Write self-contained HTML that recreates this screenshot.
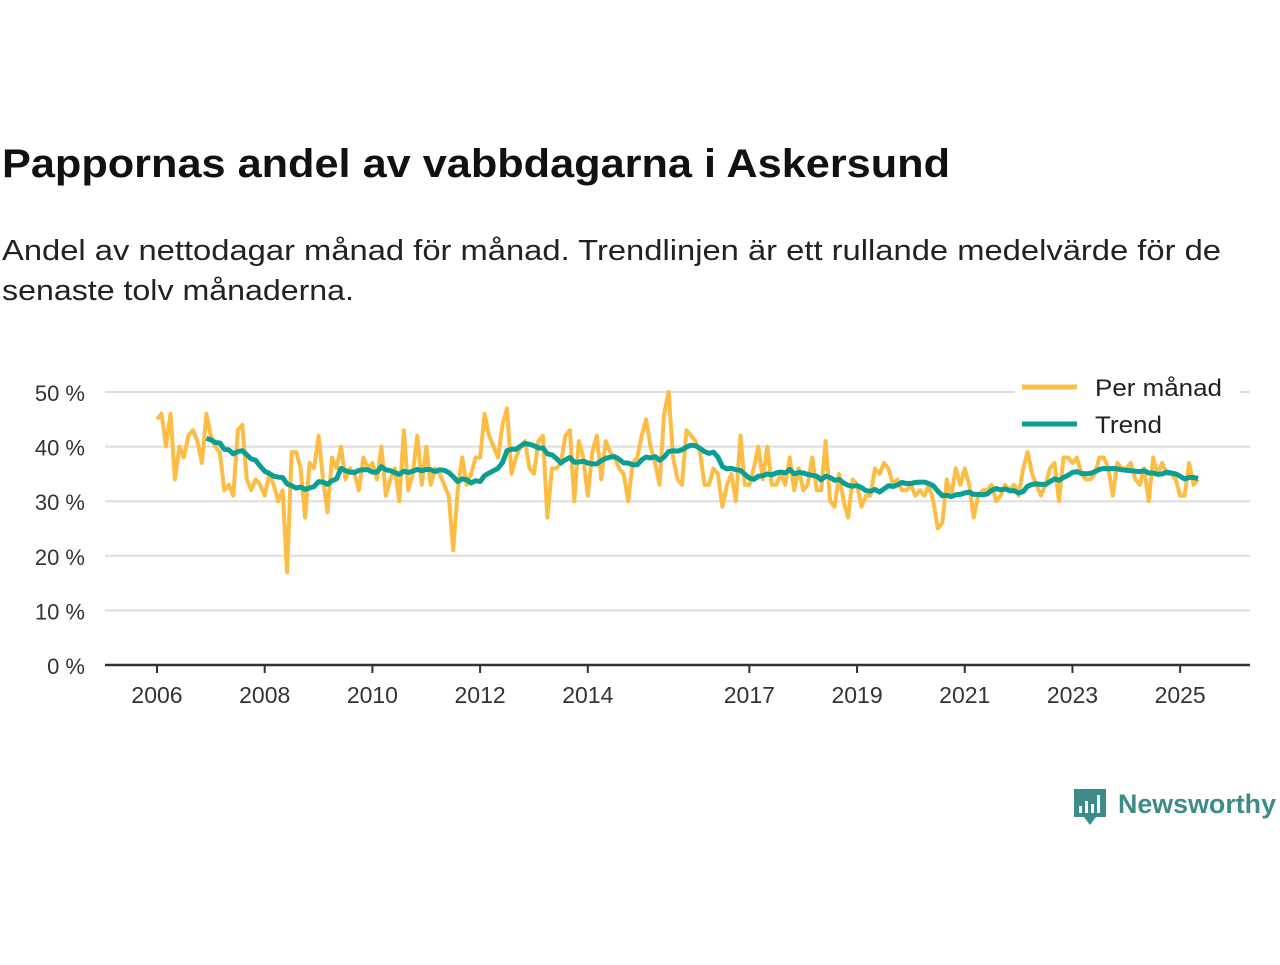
<!DOCTYPE html>
<html><head><meta charset="utf-8"><style>
body{margin:0;width:1280px;height:960px;background:#fff;font-family:"Liberation Sans",sans-serif;overflow:hidden}
svg text{font-family:"Liberation Sans",sans-serif}
</style></head><body>
<svg width="1280" height="960">
<text x="2" y="177" font-size="40" font-weight="bold" fill="#111" textLength="948" lengthAdjust="spacingAndGlyphs">Pappornas andel av vabbdagarna i Askersund</text>
<text x="2" y="260" font-size="29" fill="#222" textLength="1219" lengthAdjust="spacingAndGlyphs">Andel av nettodagar månad för månad. Trendlinjen är ett rullande medelvärde för de</text>
<text x="2" y="300" font-size="29" fill="#222" textLength="352" lengthAdjust="spacingAndGlyphs">senaste tolv månaderna.</text>
<g id="grid"></g><g id="axes"></g><g id="series"></g>
<g>
<rect x="1015" y="370" width="225" height="75" fill="#fff"/>
<line x1="1022" y1="387" x2="1077" y2="387" stroke="#FDBD45" stroke-width="5"/>
<text x="1095" y="396" font-size="24" fill="#222" textLength="127" lengthAdjust="spacingAndGlyphs">Per månad</text>
<line x1="1022" y1="424" x2="1077" y2="424" stroke="#0B9E92" stroke-width="5"/>
<text x="1095" y="433" font-size="24" fill="#222" textLength="67" lengthAdjust="spacingAndGlyphs">Trend</text>
</g>
<g>
<path d="M1074 789 h32 v28 h-10 l-6 8 l-6 -8 h-10 z" fill="#3E8C8A"/>
<rect x="1079" y="806" width="3" height="7" fill="#fff"/><rect x="1085" y="801" width="3" height="12" fill="#fff"/><rect x="1091" y="804" width="3" height="9" fill="#fff"/><rect x="1097" y="795" width="3" height="18" fill="#fff"/>
<text x="1118" y="813" font-size="27" font-weight="bold" fill="#3E8C8A" textLength="158" lengthAdjust="spacingAndGlyphs">Newsworthy</text>
</g>
</svg>
<script>
const perMonth=[45,46,40,46,34,40,38,42,43,41,37,46,
42,40,39,32,33,31,43,44,34,32,34,33,
31,35,33,30,32,17,39,39,36,27,37,36,
42,34,28,38,36,40,34,36,35,32,38,36,
37,34,40,31,34,36,30,43,32,35,42,33,
40,33,36,35,33,31,21,32,38,33,35,38,
38,46,42,40,38,44,47,35,38,40,41,36,
35,41,42,27,36,36,37,42,43,30,41,38,
31,39,42,34,41,39,38,36,35,30,37,38,
42,45,40,37,33,46,50,38,34,33,43,42,
41,39,33,33,36,35,29,33,35,30,42,33,
33,36,40,34,40,33,33,35,33,38,32,36,
32,33,38,32,32,41,30,29,35,30,27,34,
33,29,31,31,36,35,37,36,33,34,32,32,
33,31,32,31,33,30,25,26,34,31,36,33,
36,33,27,31,32,32,33,30,31,33,32,33,
31,36,39,35,33,31,33,36,37,30,38,38,
37,38,35,34,34,35,38,38,36,31,37,36,
36,37,34,33,36,30,38,35,37,35,35,34,
31,31,37,33,34];
const startYear=2006;
const yTicks=[0,10,20,30,40,50];
const xTickYears=[2006,2008,2010,2012,2014,2017,2019,2021,2023,2025];
const NS='http://www.w3.org/2000/svg';
const x=t=>157+(t-startYear)*53.85;
const y=v=>665-v*5.46;
function mk(tag,attrs,parent){const e=document.createElementNS(NS,tag);for(const k in attrs)e.setAttribute(k,attrs[k]);document.getElementById(parent).appendChild(e);return e;}
yTicks.forEach(v=>{
 if(v>0){const l=mk('line',{x1:105,x2:1250,y1:y(v),y2:y(v),stroke:'#ddd','stroke-width':2},'grid');
 
 }
 const t=mk('text',{x:85,y:y(v)+9,'font-size':22,'text-anchor':'end',fill:'#333'},'axes');t.textContent=v+' %';
 
 
});
const base=mk('line',{x1:105,x2:1250,y1:665,y2:665,stroke:'#333','stroke-width':2.5},'axes');


xTickYears.forEach(yr=>{
 mk('line',{x1:x(yr),x2:x(yr),y1:665,y2:673,stroke:'#333','stroke-width':2},'axes');
 const t=mk('text',{x:x(yr),y:703,'font-size':23,'text-anchor':'middle',fill:'#333'},'axes');t.textContent=yr;
 
 
});
const pts=perMonth.map((v,i)=>x(startYear+i/12).toFixed(1)+','+y(v).toFixed(1));
const p1=mk('polyline',{points:pts.join(' '),fill:'none',stroke:'#FDBD45','stroke-width':4,'stroke-linejoin':'round'},'series');


const tp=[];
for(let i=11;i<perMonth.length;i++){let s=0;for(let j=i-11;j<=i;j++)s+=perMonth[j];tp.push(x(startYear+i/12).toFixed(1)+','+y(s/12).toFixed(1));}
const p2=mk('polyline',{points:tp.join(' '),fill:'none',stroke:'#0B9E92','stroke-width':5,'stroke-linejoin':'round'},'series');


</script>
</body></html>
